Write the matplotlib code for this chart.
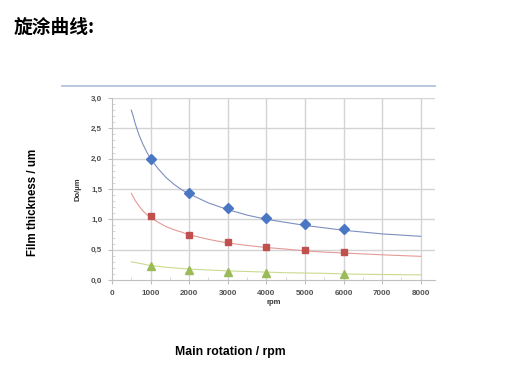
import matplotlib
matplotlib.use("Agg")
import matplotlib.pyplot as plt
from matplotlib.lines import Line2D
from matplotlib.ticker import MultipleLocator, FixedLocator

# ---- data ----
rpm_points = [1000, 2000, 3000, 4000, 5000, 6000]
blue_points = [2.00, 1.43, 1.18, 1.02, 0.92, 0.84]
red_points = [1.05, 0.75, 0.62, 0.54, 0.49, 0.46]
green_rpm = [1000, 2000, 3000, 4000, 6000]
green_points = [0.23, 0.17, 0.14, 0.12, 0.10]

curve_rpm = [500, 550, 600, 700, 800, 900, 1000, 1200, 1400, 1600, 1800, 2000,
             2500, 3000, 3500, 4000, 4500, 5000, 5500, 6000, 7000, 8000]
blue_curve = [2.80, 2.70, 2.58, 2.39, 2.24, 2.11, 2.00, 1.83, 1.69, 1.58, 1.49, 1.42,
              1.27, 1.16, 1.07, 1.00, 0.95, 0.90, 0.86, 0.82, 0.76, 0.72]
red_curve = [1.43, 1.37, 1.31, 1.22, 1.14, 1.08, 1.03, 0.95, 0.88, 0.83, 0.79, 0.745,
             0.67, 0.61, 0.57, 0.535, 0.51, 0.48, 0.46, 0.445, 0.415, 0.39]
green_curve = [0.30, 0.295, 0.29, 0.275, 0.265, 0.25, 0.24, 0.225, 0.21, 0.20, 0.19, 0.18,
               0.165, 0.15, 0.14, 0.13, 0.12, 0.115, 0.11, 0.10, 0.09, 0.085]

x_ticks = [0, 1000, 2000, 3000, 4000, 5000, 6000, 7000, 8000]
y_ticks = [0.0, 0.5, 1.0, 1.5, 2.0, 2.5, 3.0]
y_ticklabels = ["0,0", "0,5", "1,0", "1,5", "2,0", "2,5", "3,0"]

W, H = 513, 370
fig = plt.figure(figsize=(W / 100, H / 100), dpi=100)

def fx(px):
    return px / W

def fy(py):
    return 1 - py / H

# axes placed in pixel terms
ax_l, ax_r, ax_t, ax_b = 112, 435, 98, 280
ax = fig.add_axes([fx(ax_l), fy(ax_b), (ax_r - ax_l) / W, (ax_b - ax_t) / H])
ax.set_xlim(0, 8370)
ax.set_ylim(0, 3.0)

grid_c = "#d4d4d4"
for t in x_ticks[1:]:
    ax.axvline(t, color=grid_c, lw=1.0, zorder=0)
for t in y_ticks[1:]:
    ax.axhline(t, color=grid_c, lw=1.0, zorder=0)

ax.plot(curve_rpm, blue_curve, color="#7d8fc0", lw=0.8, zorder=2)
ax.plot(curve_rpm, red_curve, color="#e39a97", lw=0.8, zorder=2)
ax.plot(curve_rpm, green_curve, color="#c9db8e", lw=0.8, zorder=2)

ax.plot(rpm_points, blue_points, ls="none", marker="D", ms=5.2, color="#4a77c4", zorder=3)
ax.plot(rpm_points, red_points, ls="none", marker="s", ms=5, color="#c0504d", zorder=3)
ax.plot(green_rpm, green_points, ls="none", marker="^", ms=5.8, color="#9bbb59", zorder=3)

for s in ["top", "right"]:
    ax.spines[s].set_visible(False)
ax.spines["left"].set_color("#bfbfbf")
ax.spines["bottom"].set_color("#bfbfbf")
ax.spines["left"].set_linewidth(0.8)
ax.spines["bottom"].set_linewidth(0.8)

ax.xaxis.set_major_locator(FixedLocator(x_ticks))
ax.set_xticklabels([str(v) for v in x_ticks])
ax.yaxis.set_major_locator(FixedLocator(y_ticks))
ax.set_yticklabels(y_ticklabels)
ax.xaxis.set_minor_locator(MultipleLocator(500))
ax.yaxis.set_minor_locator(MultipleLocator(0.1))
ax.tick_params(axis="both", which="major", length=3, color="#bfbfbf", width=0.8,
               labelsize=5.8, labelcolor="#505050", pad=4)
ax.tick_params(axis="both", which="minor", length=2, color="#d0d0d0", width=0.6, direction="in")
for lab in ax.get_xticklabels() + ax.get_yticklabels():
    lab.set_fontweight("bold")
    lab.set_family("Liberation Sans")

ax.set_ylabel("Do/µm", fontsize=5.5, fontweight="bold", family="Liberation Sans", color="#333333", labelpad=7)
ax.set_xlabel("rpm", fontsize=5.5, fontweight="bold", family="Liberation Sans", color="#333333", labelpad=2)

# top decorative line
fig.add_artist(Line2D([fx(62), fx(435)], [fy(86), fy(86)], color="#b3c3dc", lw=1.3))

fig.text(fx(14), fy(27), "旋涂曲线:", fontsize=13.5, fontweight="bold",
         family=["Noto Sans CJK SC", "DejaVu Sans"], ha="left", va="center", color="black")
fig.text(fx(33), fy(202), "Film thickness / um", fontsize=8.3, fontweight="bold",
         family="Liberation Sans", rotation=90, ha="center", va="center")
fig.text(fx(230), fy(352), "Main rotation / rpm", fontsize=8.8, fontweight="bold",
         family="Liberation Sans", ha="center", va="center")

fig.savefig("out.png", dpi=100)
